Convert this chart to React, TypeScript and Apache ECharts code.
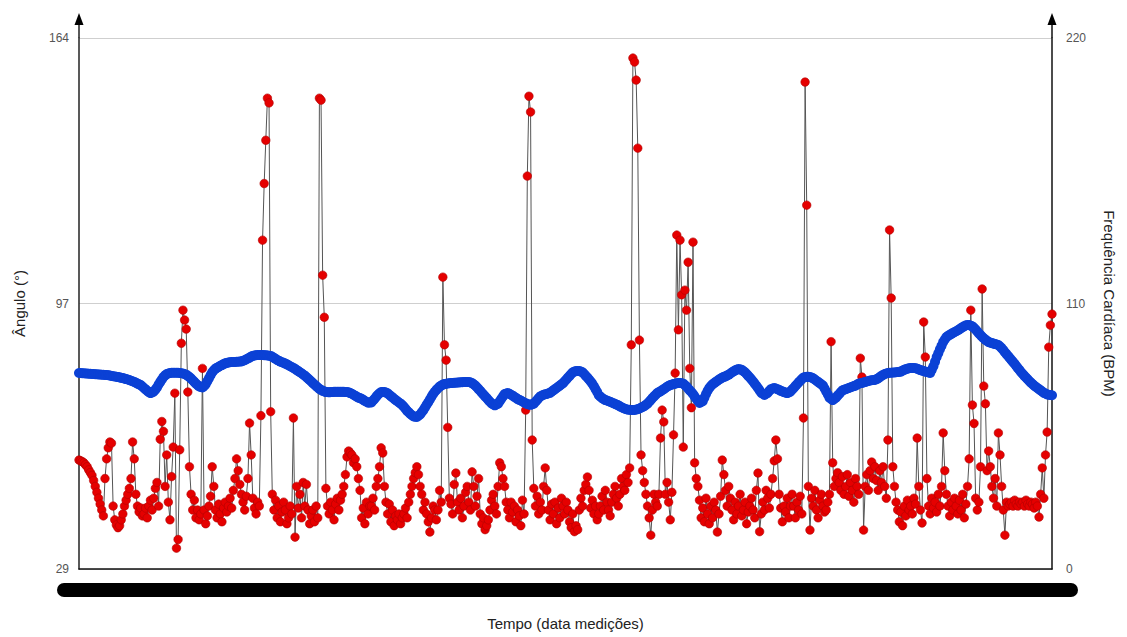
import React, { useEffect, useRef } from "react";
import * as echarts from "echarts";

// Ângulo (°) – left axis
const angle: number[] = [
  56.7, 56.5, 56.3, 56.0, 55.5, 55.0, 54.2, 53.5, 52.8, 51.5, 50.0, 48.5, 47.0, 45.5, 44.0, 42.5, 52.0, 57.0, 59.8, 61.3,
  61.0, 45.0, 41.5, 40.2, 39.5, 40.0, 41.5, 43.0, 45.0, 46.5, 48.0, 49.5, 52.0, 61.3, 57.0, 48.0, 45.0, 43.5, 44.5, 42.5,
  43.0, 44.5, 42.0, 45.0, 46.5, 44.0, 47.0, 49.5, 51.0, 45.0, 62.0, 66.5, 64.0, 50.0, 58.0, 46.0, 41.5, 52.5, 60.0, 73.7,
  34.3, 36.5, 59.3, 86.4, 94.8, 92.3, 90.0, 74.0, 55.0, 48.0, 44.0, 46.5, 42.0, 44.0, 41.5, 43.0, 80.0, 44.0, 40.5, 42.5,
  45.0, 47.5, 55.0, 50.0, 44.0, 42.0, 45.5, 43.0, 41.0, 44.5, 46.0, 43.5, 45.0, 47.0, 44.5, 49.0, 52.0, 57.0, 54.0, 50.5,
  48.0, 46.0, 44.0, 47.5, 52.0, 66.1, 58.0, 47.0, 44.5, 43.0, 46.0, 45.0, 68.0, 112.6, 127.0, 138.0, 148.7, 147.5, 69.0, 48.0,
  44.0, 46.5, 42.0, 45.0, 41.0, 43.5, 46.0, 44.0, 40.5, 42.0, 45.0, 43.0, 67.4, 37.1, 50.0, 44.5, 48.0, 42.0, 51.0, 45.0,
  50.5, 44.0, 40.5, 42.5, 44.0, 41.0, 45.0, 42.0, 148.7, 148.2, 103.7, 93.0, 49.5, 45.0, 43.0, 46.0, 44.0, 41.5, 45.5, 47.0,
  44.0, 46.5, 48.0, 50.0, 53.0, 57.5, 59.0, 58.5, 58.0, 56.0, 57.0, 55.0, 52.0, 49.0, 42.0, 44.5, 40.5, 46.0, 43.0, 45.0,
  45.0, 47.0, 44.0, 50.0, 52.0, 55.0, 59.8, 58.5, 50.0, 46.0, 43.0, 45.5, 41.0, 44.0, 40.0, 42.5, 41.5, 43.0, 40.5, 42.0,
  43.0, 44.5, 42.0, 46.0, 48.0, 50.0, 52.0, 53.5, 55.0, 53.0, 50.0, 48.0, 44.0, 46.0, 43.0, 41.0, 38.4, 42.0, 45.0, 44.0,
  41.5, 44.0, 49.0, 46.0, 103.2, 86.0, 82.1, 65.0, 47.0, 45.5, 43.0, 50.5, 53.4, 46.0, 44.0, 47.0, 42.0, 45.0, 48.5, 50.0,
  46.0, 44.0, 53.7, 50.0, 45.0, 47.5, 52.0, 43.0, 40.5, 42.0, 39.0, 40.0, 41.5, 44.0, 46.5, 48.0, 45.0, 43.0, 50.0, 56.0,
  55.0, 52.0, 50.0, 46.0, 44.0, 42.0, 46.0, 43.5, 45.0, 41.0, 44.0, 42.5, 40.0, 46.5, 43.0, 69.4, 128.9, 149.2, 145.2, 61.8,
  49.5, 45.0, 47.5, 43.0, 46.0, 44.0, 50.0, 54.7, 49.0, 44.0, 41.5, 45.5, 43.0, 46.0, 40.5, 44.5, 42.0, 47.0, 45.0, 43.0,
  46.0, 44.0, 41.0, 39.5, 43.0, 38.5, 40.0, 39.0, 44.0, 47.0, 45.0, 49.0, 50.5, 52.4, 49.0, 44.5, 46.5, 43.0, 45.0, 41.5,
  43.0, 45.0, 47.5, 44.0, 49.0, 46.0, 44.0, 42.5, 46.0, 48.0, 50.0, 47.0, 45.0, 48.0, 52.0, 50.0, 49.0, 53.0, 51.0, 54.7,
  86.0, 158.9, 157.9, 153.3, 136.0, 87.2, 58.0, 54.0, 51.0, 48.0, 45.0, 42.0, 37.6, 44.0, 48.0, 46.0, 45.0, 48.0, 62.3, 69.4,
  66.4, 48.0, 51.0, 46.0, 41.5, 48.5, 63.1, 78.8, 113.9, 89.8, 112.6, 98.7, 60.0, 99.9, 94.8, 107.0, 80.0, 70.0, 112.1, 56.0,
  52.0, 50.0, 46.5, 42.0, 44.5, 41.0, 47.0, 43.0, 40.5, 45.0, 42.0, 46.0, 44.0, 38.4, 43.0, 47.5, 56.7, 53.0, 49.0, 45.0,
  50.0, 47.0, 44.0, 41.5, 46.0, 43.0, 45.0, 48.0, 42.5, 44.0, 46.0, 40.5, 43.5, 45.0, 47.0, 44.0, 42.0, 49.0, 53.4, 38.5,
  43.0, 46.0, 44.0, 49.0, 47.0, 44.5, 48.0, 52.0, 56.5, 61.8, 57.0, 48.0, 44.5, 41.0, 45.0, 43.5, 47.0, 42.0, 45.0, 48.0,
  45.0, 42.0, 46.0, 44.0, 47.5, 43.0, 67.4, 152.8, 121.5, 50.0, 38.9, 47.0, 45.0, 49.0, 44.0, 42.0, 46.5, 48.0, 45.0, 43.5,
  44.0, 46.0, 48.0, 86.8, 56.0, 50.0, 52.0, 53.5, 51.0, 49.0, 52.5, 48.0, 50.0, 53.0, 47.5, 51.0, 49.0, 46.0, 52.0, 50.0,
  48.0, 82.6, 77.8, 38.9, 50.0, 53.0, 49.0, 54.0, 56.2, 52.0, 55.0, 51.5, 49.0, 54.0, 51.0, 55.0, 50.0, 47.0, 61.8, 115.2,
  97.9, 55.0, 50.0, 46.0, 44.0, 41.0, 43.5, 40.0, 45.0, 42.5, 46.5, 44.0, 45.0, 43.0, 47.0, 45.5, 62.3, 50.0, 44.0, 40.7,
  91.8, 82.9, 52.0, 45.0, 43.0, 47.0, 44.5, 46.0, 43.5, 48.0, 45.0, 50.0, 63.6, 54.0, 48.0, 45.0, 42.5, 46.0, 44.0, 47.0,
  45.0, 43.0, 46.5, 44.0, 48.0, 42.0, 45.5, 50.0, 57.0, 94.8, 70.7, 66.0, 47.0, 44.0, 46.0, 55.0, 100.2, 75.5, 71.0, 54.0,
  59.0, 55.0, 50.0, 47.0, 52.0, 45.0, 63.6, 58.0, 50.0, 44.0, 37.6, 46.0, 45.0, 45.5, 46.0, 45.0, 46.5, 45.5, 45.0, 46.0,
  45.5, 46.0, 45.0, 46.5, 45.5, 45.0, 46.0, 45.5, 44.5, 46.0, 45.0, 42.2, 48.0, 54.7, 47.0, 58.0, 63.8, 85.4, 91.0, 93.8,
];

// Frequência Cardíaca (BPM) – right axis
const heartRate: number[] = [
  81.2, 81.2, 81.1, 81.1, 81.0, 81.0, 80.9, 80.9, 80.8, 80.8, 80.7, 80.7, 80.6, 80.6, 80.5, 80.5, 80.4, 80.4, 80.3, 80.2,
  80.0, 79.9, 79.8, 79.7, 79.5, 79.4, 79.2, 79.1, 78.9, 78.7, 78.5, 78.3, 78.0, 77.8, 77.5, 77.2, 76.8, 76.5, 76.2, 75.6,
  75.0, 74.4, 73.8, 73.3, 72.9, 73.2, 73.5, 74.3, 75.2, 76.4, 77.5, 78.5, 79.5, 80.2, 80.8, 81.0, 81.2, 81.3, 81.3, 81.3,
  81.3, 81.3, 81.2, 81.1, 81.0, 80.8, 80.5, 80.0, 79.5, 78.9, 78.2, 77.5, 76.8, 76.2, 75.6, 75.4, 75.2, 75.8, 76.5, 77.8,
  79.0, 80.3, 81.5, 82.3, 83.0, 83.4, 83.8, 84.2, 84.5, 84.9, 85.2, 85.4, 85.6, 85.7, 85.8, 85.8, 85.8, 85.9, 85.9, 86.0,
  86.0, 86.3, 86.5, 86.9, 87.2, 87.6, 88.0, 88.3, 88.5, 88.6, 88.7, 88.7, 88.7, 88.7, 88.6, 88.6, 88.5, 88.4, 88.3, 87.9,
  87.5, 87.1, 86.6, 86.3, 85.9, 85.7, 85.4, 85.1, 84.8, 84.4, 84.0, 83.7, 83.3, 82.9, 82.4, 82.0, 81.5, 81.1, 80.6, 80.1,
  79.5, 78.9, 78.3, 77.7, 77.0, 76.4, 75.8, 75.2, 74.6, 74.2, 73.8, 73.6, 73.3, 73.3, 73.2, 73.3, 73.3, 73.4, 73.4, 73.4,
  73.4, 73.4, 73.4, 73.4, 73.3, 73.3, 73.2, 72.9, 72.6, 72.2, 71.8, 71.4, 71.0, 70.8, 70.5, 70.1, 69.6, 69.3, 68.9, 69.0,
  69.0, 69.8, 70.5, 71.4, 72.2, 72.8, 73.3, 73.3, 73.3, 73.1, 72.8, 72.2, 71.6, 71.1, 70.5, 70.0, 69.5, 69.0, 68.5, 67.9,
  67.2, 66.4, 65.5, 64.9, 64.2, 63.7, 63.2, 63.1, 63.0, 63.5, 64.0, 64.9, 65.8, 66.9, 68.0, 69.1, 70.2, 71.4, 72.5, 73.4,
  74.2, 74.9, 75.6, 76.0, 76.4, 76.6, 76.8, 76.9, 77.0, 77.1, 77.1, 77.2, 77.2, 77.3, 77.3, 77.4, 77.4, 77.5, 77.5, 77.5,
  77.5, 77.3, 77.0, 76.5, 76.0, 75.3, 74.5, 73.8, 73.0, 72.3, 71.5, 70.8, 70.0, 69.3, 68.6, 68.2, 67.8, 68.2, 68.5, 69.5,
  70.5, 71.5, 72.5, 72.7, 72.9, 72.6, 72.2, 71.8, 71.3, 70.9, 70.4, 70.1, 69.8, 69.4, 69.0, 68.7, 68.3, 68.2, 68.0, 68.3,
  68.5, 69.3, 70.0, 70.8, 71.5, 71.9, 72.2, 72.4, 72.5, 72.8, 73.0, 73.5, 74.0, 74.5, 75.0, 75.5, 76.0, 76.5, 77.0, 77.8,
  78.5, 79.3, 80.0, 80.8, 81.5, 81.8, 82.0, 82.0, 82.0, 81.8, 81.5, 80.8, 80.0, 79.3, 78.5, 77.7, 76.8, 75.7, 74.5, 73.3,
  72.0, 71.4, 70.8, 70.4, 70.0, 69.8, 69.5, 69.3, 69.0, 68.7, 68.4, 68.1, 67.8, 67.4, 67.0, 66.7, 66.4, 66.2, 66.0, 66.0,
  65.9, 65.9, 65.9, 66.1, 66.2, 66.5, 66.8, 67.2, 67.5, 68.0, 68.5, 69.3, 70.0, 70.8, 71.5, 72.2, 72.9, 73.3, 73.6, 74.1,
  74.5, 75.0, 75.5, 75.9, 76.2, 76.4, 76.6, 76.8, 77.0, 77.1, 77.1, 77.0, 76.8, 76.2, 75.6, 74.8, 74.0, 73.3, 72.5, 71.5,
  70.5, 69.7, 68.8, 69.2, 69.5, 71.0, 72.5, 73.8, 75.0, 75.8, 76.5, 77.0, 77.5, 78.0, 78.5, 78.9, 79.3, 79.6, 79.8, 80.2,
  80.5, 81.0, 81.5, 81.9, 82.3, 82.6, 82.9, 82.7, 82.5, 82.0, 81.5, 80.8, 80.0, 79.3, 78.5, 77.7, 76.8, 75.9, 75.0, 74.0,
  73.0, 72.6, 72.1, 72.6, 73.0, 73.8, 74.5, 74.8, 75.0, 74.8, 74.5, 74.2, 73.8, 73.6, 73.3, 73.1, 72.9, 73.2, 73.5, 74.3,
  75.0, 75.8, 76.5, 77.3, 78.0, 78.7, 79.3, 79.5, 79.6, 79.6, 79.5, 79.3, 79.0, 78.5, 78.0, 77.5, 77.0, 76.5, 76.0, 74.8,
  73.5, 72.3, 71.0, 70.5, 70.0, 70.5, 71.0, 71.8, 72.5, 73.3, 74.0, 74.3, 74.5, 74.8, 75.0, 75.3, 75.5, 75.8, 76.0, 76.4,
  76.8, 77.0, 77.1, 77.3, 77.5, 77.7, 77.9, 78.1, 78.2, 78.3, 78.3, 78.7, 79.0, 79.5, 80.0, 80.4, 80.8, 81.0, 81.2, 81.3,
  81.3, 81.4, 81.4, 81.5, 81.6, 81.7, 81.8, 82.2, 82.5, 82.8, 83.0, 83.2, 83.3, 83.3, 83.3, 83.2, 83.0, 82.7, 82.4, 82.2,
  82.0, 81.8, 81.6, 81.4, 81.2, 82.6, 84.0, 85.9, 87.8, 89.4, 91.0, 92.5, 94.0, 95.1, 96.1, 96.6, 97.0, 97.4, 97.8, 98.2,
  98.5, 98.9, 99.3, 99.8, 100.2, 100.6, 101.0, 101.1, 101.1, 100.8, 100.5, 99.9, 99.2, 98.4, 97.6, 96.9, 96.2, 95.6, 95.0, 94.5,
  94.0, 93.8, 93.6, 93.4, 93.2, 93.0, 92.8, 92.2, 91.5, 90.7, 89.8, 89.0, 88.2, 87.4, 86.6, 85.8, 85.0, 84.1, 83.2, 82.4,
  81.5, 80.8, 80.0, 79.3, 78.6, 77.9, 77.2, 76.6, 76.0, 75.5, 75.0, 74.5, 74.0, 73.5, 73.0, 72.7, 72.3, 72.2, 72.1, 72.0,
];

const samples: string[] = angle.map((_, i) => String(i + 1));

const angleAxis = { min: 29, max: 164, step: 67.5 };
const bpmAxis = { min: 0, max: 220, step: 110 };

const FONT = "Liberation Sans, Arial, sans-serif";

export default function App() {
  const ref = useRef<HTMLDivElement>(null);

  useEffect(() => {
    if (!ref.current) return;
    const chart = echarts.init(ref.current, null, { renderer: "svg" });
    chart.setOption({
      animation: false,
      backgroundColor: "#ffffff",
      grid: {
        left: 79,
        right: 75,
        top: 38,
        bottom: 68,
        containLabel: false,
        outerBoundsMode: "none",
      },
      xAxis: {
        type: "category",
        data: samples,
        boundaryGap: false,
        axisLine: { show: true, lineStyle: { color: "#111", width: 1.5 } },
        axisTick: { show: false },
        axisLabel: { show: false },
        splitLine: { show: false },
        name: "Tempo (data medições)",
        nameLocation: "middle",
        nameGap: 47,
        nameTextStyle: { fontSize: 15, color: "#222", fontFamily: FONT },
      },
      yAxis: [
        {
          type: "value",
          position: "left",
          min: angleAxis.min,
          max: angleAxis.max,
          interval: angleAxis.step,
          axisLine: { show: true, lineStyle: { color: "#222", width: 1.5 } },
          axisTick: { show: false },
          axisLabel: {
            color: "#555",
            fontSize: 12,
            fontFamily: FONT,
            margin: 10,
            formatter: (v: number) => String(Math.round(v)),
          },
          splitLine: { show: true, lineStyle: { color: "#cfcfcf", width: 1 } },
          name: "Ângulo (°)",
          nameLocation: "middle",
          nameGap: 52,
          nameRotate: 90,
          nameTextStyle: { fontSize: 15, color: "#222", fontFamily: FONT },
        },
        {
          type: "value",
          position: "right",
          min: bpmAxis.min,
          max: bpmAxis.max,
          interval: bpmAxis.step,
          axisLine: { show: true, lineStyle: { color: "#111", width: 1.5 } },
          axisTick: { show: false },
          axisLabel: {
            color: "#555",
            fontSize: 12,
            fontFamily: FONT,
            margin: 14,
          },
          splitLine: { show: false },
          name: "Frequência Cardíaca (BPM)",
          nameLocation: "middle",
          nameGap: 50,
          nameRotate: -90,
          nameTextStyle: { fontSize: 15, color: "#222", fontFamily: FONT },
        },
      ],
      series: [
        {
          name: "Ângulo",
          type: "line",
          yAxisIndex: 0,
          data: angle,
          symbol: "circle",
          symbolSize: 8.5,
          showAllSymbol: true,
          itemStyle: { color: "#e50000", borderColor: "#b00000", borderWidth: 0.6 },
          lineStyle: { color: "#555", width: 1 },
          z: 2,
        },
        {
          name: "Frequência Cardíaca",
          type: "line",
          yAxisIndex: 1,
          data: heartRate,
          symbol: "circle",
          symbolSize: 10,
          showAllSymbol: true,
          itemStyle: { color: "#0b41d5" },
          lineStyle: { color: "#0b41d5", width: 4 },
          z: 3,
        },
      ],
      graphic: [
        { type: "line", shape: { x1: 79, y1: 38, x2: 79, y2: 20 }, style: { stroke: "#222", lineWidth: 1.5 } },
        { type: "polygon", shape: { points: [[74.5, 25], [83.5, 25], [79, 13]] }, style: { fill: "#000" } },
        { type: "line", shape: { x1: 1052, y1: 38, x2: 1052, y2: 20 }, style: { stroke: "#111", lineWidth: 1.5 } },
        { type: "polygon", shape: { points: [[1047.5, 25], [1056.5, 25], [1052, 13]] }, style: { fill: "#000" } },
        { type: "rect", shape: { x: 57, y: 583, width: 1021, height: 14, r: 7 }, style: { fill: "#000" } },
      ],
    });
    return () => chart.dispose();
  }, []);

  return (
    <div
      ref={ref}
      style={{ position: "fixed", left: 0, top: 0, width: 1127, height: 637 }}
    />
  );
}
